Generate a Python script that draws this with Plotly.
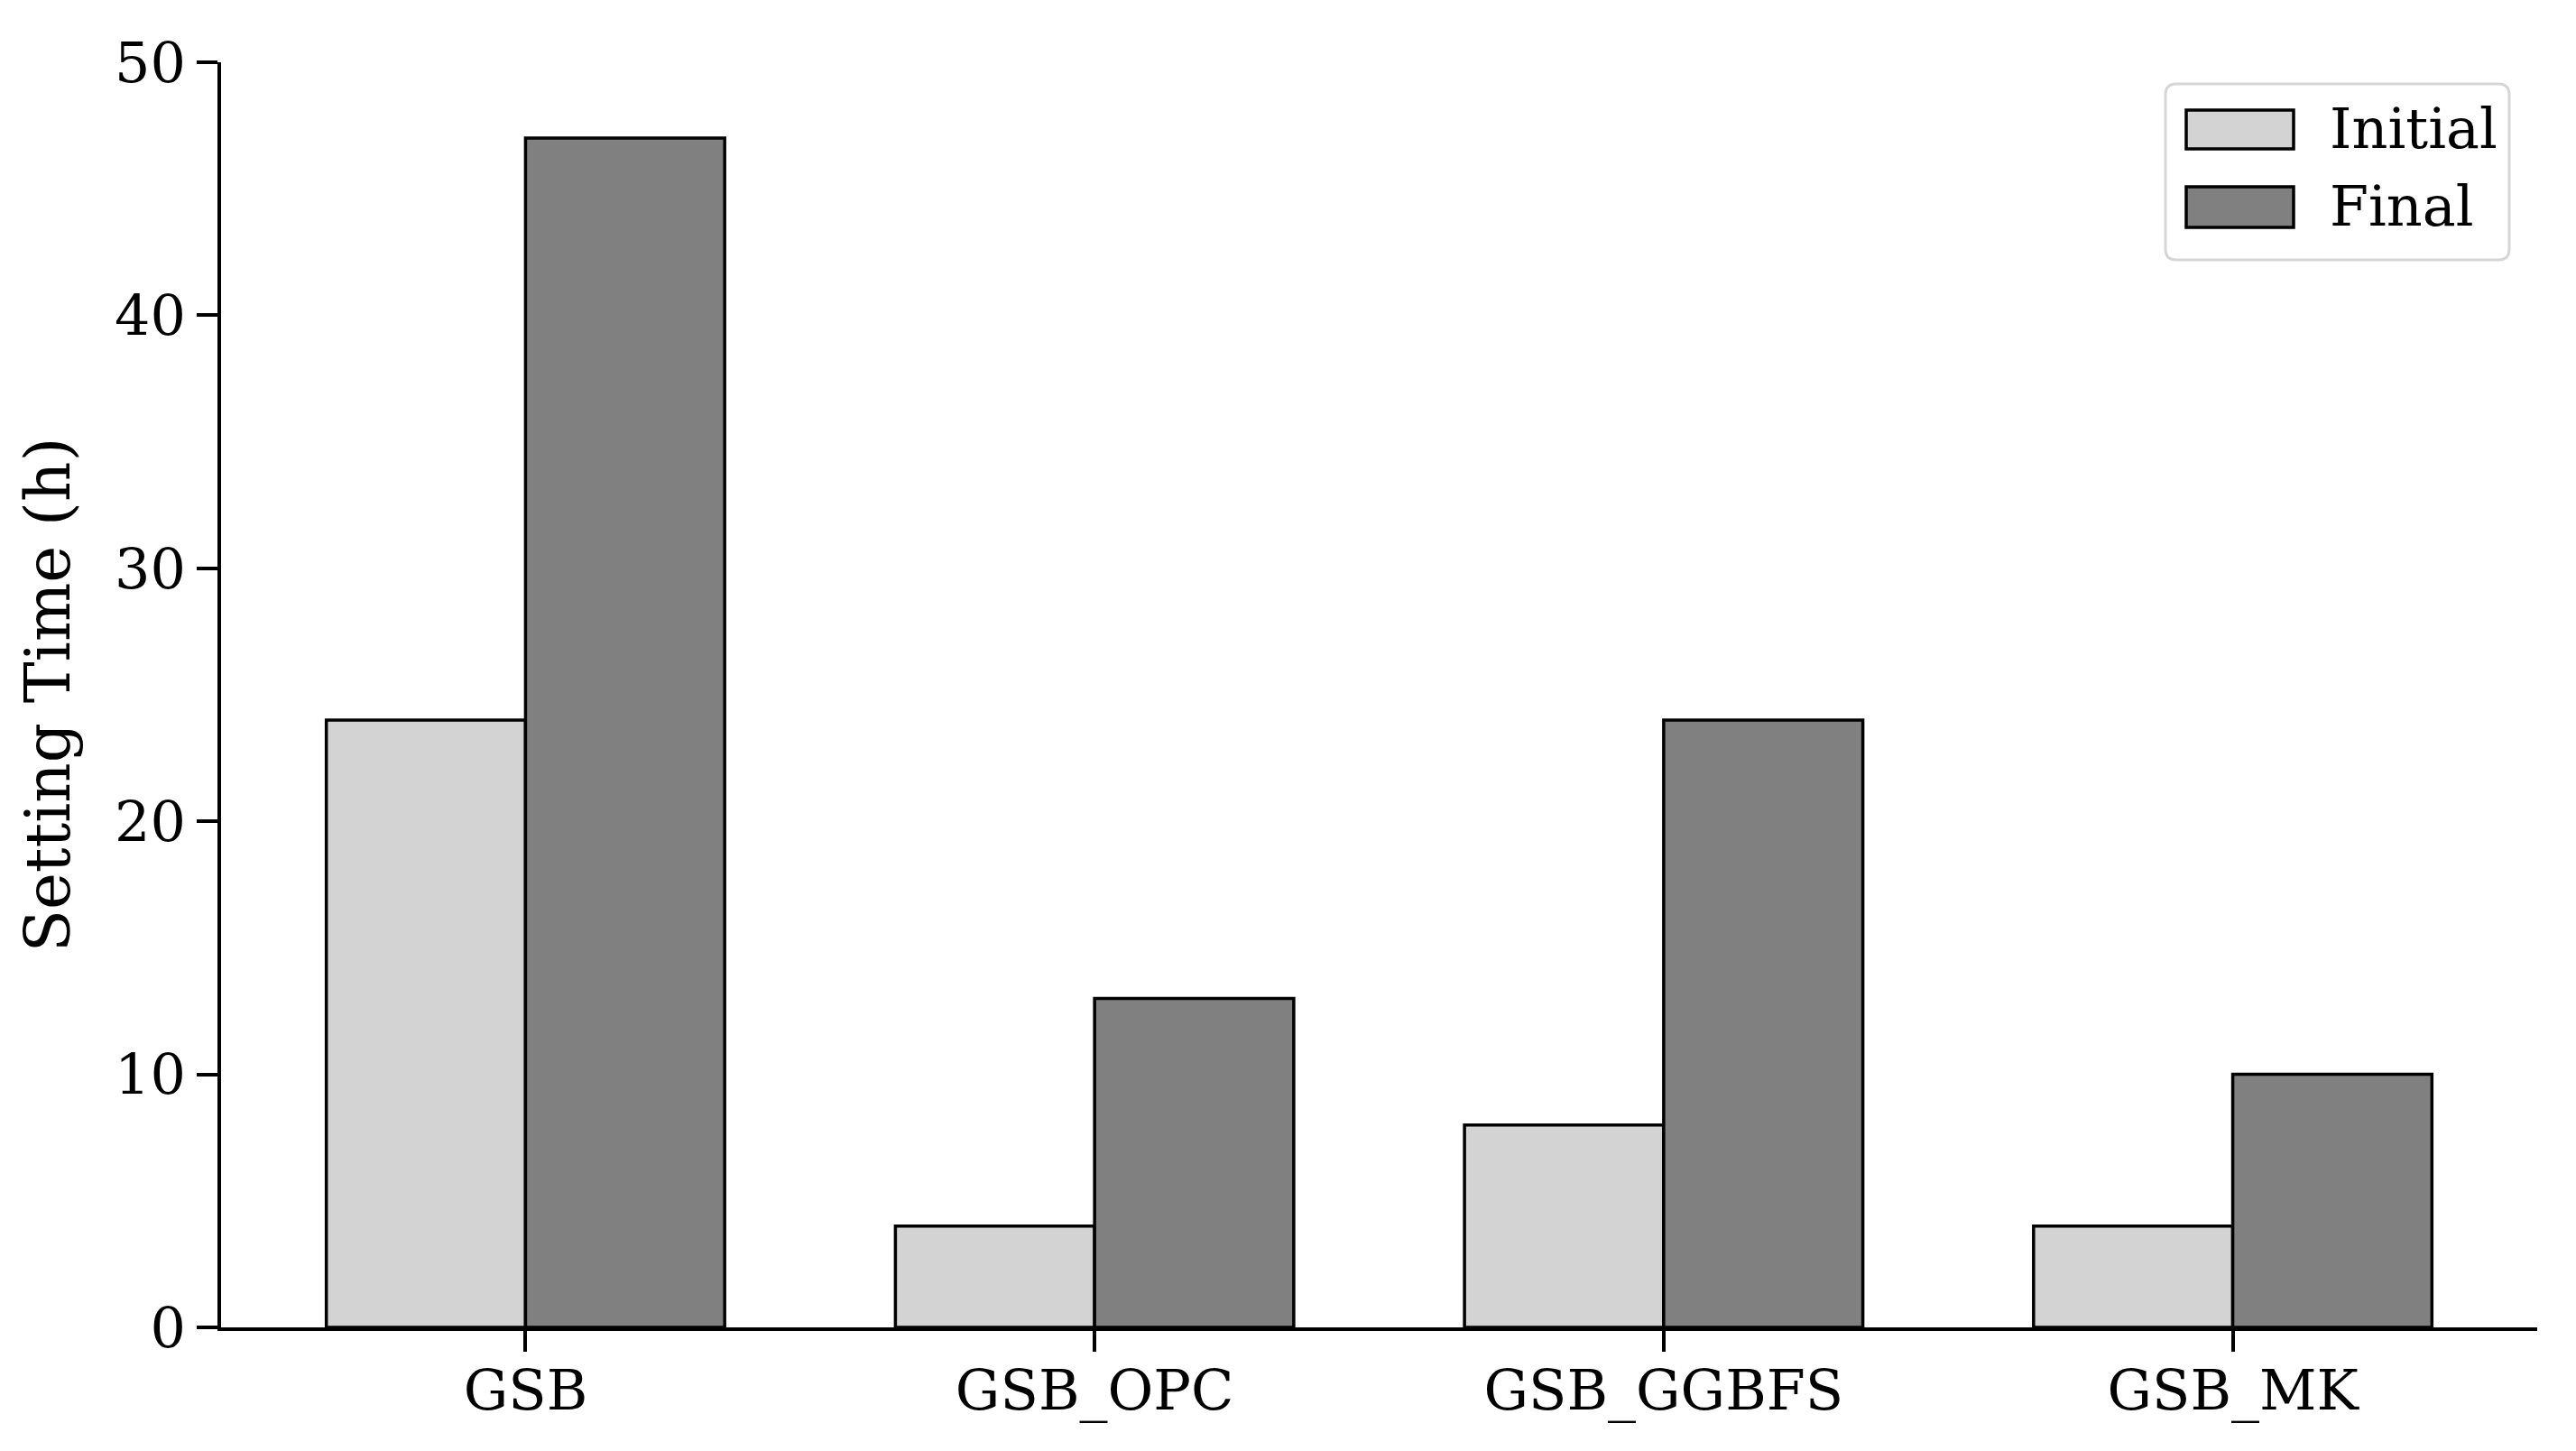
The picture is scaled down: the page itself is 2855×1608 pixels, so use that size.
import plotly.graph_objects as go

categories = ["GSB", "GSB_OPC", "GSB_GGBFS", "GSB_MK"]
initial_vals = [24, 4, 8, 4]
final_vals = [47, 13, 24, 10]
series_names = ["Initial", "Final"]
y_ticks = [0, 10, 20, 30, 40, 50]

# page body has an 8px margin; target plot area in absolute px: x 245..2812, y 69..1471
OFF = 8
W, H = 2839, 1592
L, T = 245 - OFF, 69 - OFF
R = OFF + W - 2812
B = OFF + H - 1471
PW, PH = W - L - R, H - T - B
FONT = "DejaVu Serif"
FS = 62
LW = 3.5


def px(x):
    return (x - OFF - L) / PW


def py(y):
    return (H - B - (y - OFF)) / PH


fig = go.Figure()
fig.add_trace(go.Bar(x=categories, y=initial_vals, name=series_names[0],
                     marker=dict(color="#d3d3d3", line=dict(color="black", width=LW))))
fig.add_trace(go.Bar(x=categories, y=final_vals, name=series_names[1],
                     marker=dict(color="#808080", line=dict(color="black", width=LW))))

fig.update_layout(
    width=W, height=H,
    margin=dict(l=L, r=R, t=T, b=B),
    paper_bgcolor="white", plot_bgcolor="white",
    barmode="group", bargap=0.3, bargroupgap=0,
    showlegend=False,
    font=dict(family=FONT, size=FS, color="black"),
)
fig.update_xaxes(
    type="category", range=[-0.535, 3.535],
    showline=True, linecolor="black", linewidth=LW,
    ticks="outside", ticklen=23, tickwidth=LW, tickcolor="black",
    showgrid=False, zeroline=False, ticklabelstandoff=-10,
    tickfont=dict(family=FONT, size=FS, color="black"),
)
fig.update_yaxes(
    range=[0, 50], tickvals=y_ticks,
    showline=True, linecolor="black", linewidth=LW,
    ticks="outside", ticklen=23, tickwidth=LW, tickcolor="black",
    showgrid=False, zeroline=False,
    tickfont=dict(family=FONT, size=FS, color="black"),
    title=dict(text="Setting Time (h)", font=dict(family=FONT, size=FS + 7, color="black"), standoff=28),
)

# legend (matplotlib-style, upper right) with rounded frame
x0, x1, y0, y1, rr = 2400, 2781, 93, 288, 12
path = (f"M {px(x0 + rr)},{py(y0)} L {px(x1 - rr)},{py(y0)} "
        f"Q {px(x1)},{py(y0)} {px(x1)},{py(y0 + rr)} L {px(x1)},{py(y1 - rr)} "
        f"Q {px(x1)},{py(y1)} {px(x1 - rr)},{py(y1)} L {px(x0 + rr)},{py(y1)} "
        f"Q {px(x0)},{py(y1)} {px(x0)},{py(y1 - rr)} L {px(x0)},{py(y0 + rr)} "
        f"Q {px(x0)},{py(y0)} {px(x0 + rr)},{py(y0)} Z")
fig.add_shape(type="path", xref="paper", yref="paper", path=path,
              line=dict(color="#d6d6d6", width=3), fillcolor="rgba(255,255,255,0.8)", layer="above")
legend_items = [(series_names[0], "#d3d3d3", 122, 165, 143),
                (series_names[1], "#808080", 207, 252, 228)]
for name, color, sy0, sy1, yc in legend_items:
    fig.add_shape(type="rect", xref="paper", yref="paper",
                  x0=px(2423), x1=px(2542), y0=py(sy1), y1=py(sy0),
                  line=dict(color="black", width=LW), fillcolor=color, layer="above")
    fig.add_annotation(xref="paper", yref="paper", x=px(2580), y=py(yc),
                       xanchor="left", yanchor="middle", showarrow=False,
                       text=name, font=dict(family=FONT, size=FS, color="black"))

fig.write_html("out.html")
